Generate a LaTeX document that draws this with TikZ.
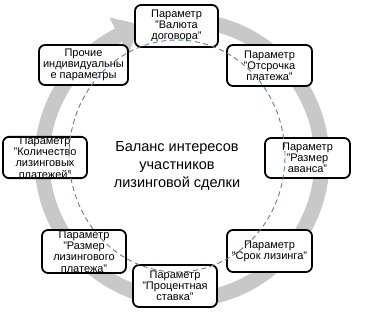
\documentclass[tikz,border=0pt]{standalone}
\usepackage{fontspec}
\setmainfont{Liberation Sans}
\usetikzlibrary{calc}
\definecolor{bandgray}{RGB}{200,200,200}
\definecolor{dashblue}{RGB}{95,125,160}
\begin{document}
\begin{tikzpicture}[x=1pt,y=1pt,
  box/.style={draw=black, line width=1.8pt, rounded corners=6pt, fill=white,
    align=center, inner sep=0pt, font=\fontsize{11}{11.2}\selectfont},
  ring/.style={draw=dashblue, line width=0.9pt, dash pattern=on 5pt off 3.5pt},
  band/.style={draw=bandgray, line width=15pt},
  title/.style={align=center, font=\fontsize{14.5}{18}\selectfont}]
\useasboundingbox (0,0) rectangle (369,314);
% gray circular arrow
\coordinate (bc) at (182,154);
\draw[band] ($(bc)+(80:140)$) arc[start angle=80, end angle=-243, radius=140];
\fill[bandgray] ($(bc)+(117:160)$) -- ($(bc)+(117:140)+(27:24)$) -- ($(bc)+(117:118)$) -- cycle;
% boxes
\node[box, minimum width=83pt, minimum height=42pt] (top) at (176.5,288) {Параметр\\"Валюта\\договора"};
\node[box, minimum width=89pt, minimum height=40pt] (other) at (83.5,249) {Прочие\\индивидуальны\\е параметры};
\node[box, minimum width=85pt, minimum height=41pt] (defer) at (269.5,248.5) {Параметр\\"Отсрочка\\платежа"};
\node[box, minimum width=84pt, minimum height=41pt] (count) at (45,156.5) {Параметр\\"Количество\\лизинговых\\платежей"};
\node[box, minimum width=85pt, minimum height=40pt] (advance) at (307.5,156) {Параметр\\"Размер\\аванса"};
\node[box, minimum width=84pt, minimum height=43pt] (payment) at (84,62.5) {Параметр\\"Размер\\лизингового\\платежа"};
\node[box, minimum width=85pt, minimum height=42pt] (term) at (269.5,63) {Параметр\\"Срок лизинга"};
\node[box, minimum width=84pt, minimum height=42pt] (rate) at (175,28) {Параметр\\"Процентная\\ставка"};
\node[title] (center) at (177,148) {Баланс интересов\\участников\\лизинговой сделки};
% dashed ring
\draw[ring] (177,158) ellipse[x radius=108, y radius=116];
\end{tikzpicture}
\end{document}
